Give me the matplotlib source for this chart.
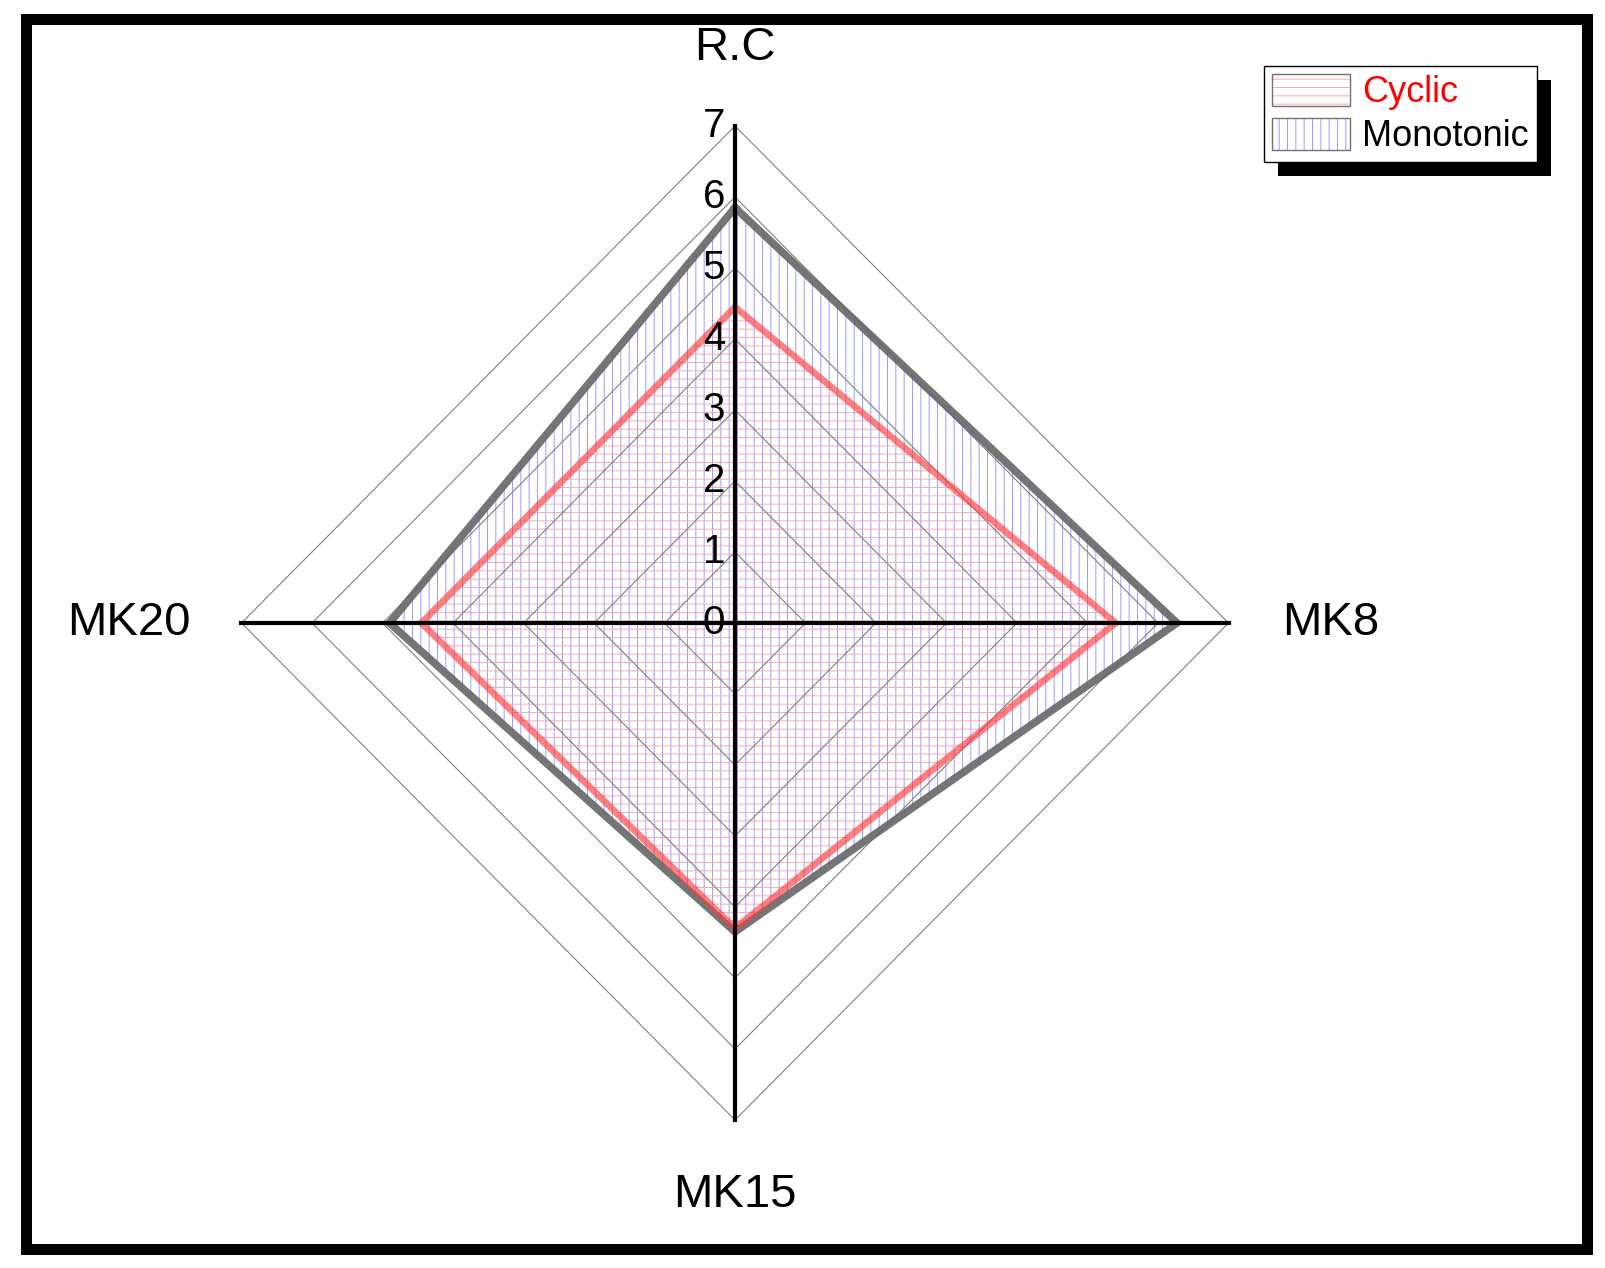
import numpy as np
import matplotlib
matplotlib.use("Agg")
import matplotlib.pyplot as plt
from matplotlib.patches import Patch, Rectangle

plt.rcParams['font.family'] = ['Liberation Sans', 'DejaVu Sans']
plt.rcParams['hatch.linewidth'] = 0.7

# axes clockwise from the top
categories = ['R.C', 'MK8', 'MK15', 'MK20']
angles_deg = [90, 0, -90, 180]
cyclic = [4.45, 5.4, 4.3, 4.45]
monotonic = [5.85, 6.27, 4.35, 4.9]
ticks = [0, 1, 2, 3, 4, 5, 6, 7]
rmax = 7
label_r = [8.1, 8.45, 8.05, 8.6]

W, H, DPI = 1606, 1268, 100
cx, cy = 735, 623          # centre of the web, pixels
sx, sy = 70.5, 71.0        # pixels per unit

RED_HATCH = '#ffa8a8'
BLUE_HATCH = '#9a9aff'

fig = plt.figure(figsize=(W / DPI, H / DPI), dpi=DPI)
ax = fig.add_axes([0, 0, 1, 1])
ax.set_xlim(-cx / sx, (W - cx) / sx)
ax.set_ylim((cy - H) / sy, cy / sy)
ax.axis('off')

th = np.deg2rad(angles_deg)
ux, uy = np.cos(th), np.sin(th)


def closed(vals):
    v = np.asarray(vals, dtype=float)
    x, y = v * ux, v * uy
    return np.append(x, x[0]), np.append(y, y[0])


# hatched fills
mx, my = closed(monotonic)
ax.fill(mx, my, facecolor='none', edgecolor=BLUE_HATCH, hatch='||', lw=0, zorder=1)
cx_, cy_ = closed(cyclic)
ax.fill(cx_, cy_, facecolor='none', edgecolor=RED_HATCH, hatch='--', lw=0, zorder=1)

# diamond grid
for t in ticks[1:]:
    gx, gy = closed([t] * len(categories))
    ax.plot(gx, gy, color='#808080', lw=0.8, zorder=2)

# series outlines
ax.plot(mx, my, color='#666666', lw=5.5, alpha=0.9, solid_joinstyle='miter', zorder=3)
ax.plot(cx_, cy_, color='#ff3c3c', lw=4.8, alpha=0.65, solid_joinstyle='miter', zorder=4)

# spokes
for a, b in zip(ux, uy):
    ax.plot([0, rmax * a], [0, rmax * b], color='black', lw=3, zorder=5)

# radial tick labels along the top spoke
for t in ticks:
    ax.text(-0.14, t, str(t), ha='right', va='center', fontsize=29, zorder=6)

# axis names
for name, a, b, r in zip(categories, ux, uy, label_r):
    ax.text(r * a, r * b, name, ha='center', va='center', fontsize=34)

# legend with hard black drop shadow
handles = [
    (Patch(facecolor='white', edgecolor=RED_HATCH, hatch='--', lw=0),
     Patch(fill=False, edgecolor='#707070', lw=1)),
    (Patch(facecolor='white', edgecolor=BLUE_HATCH, hatch='||', lw=0),
     Patch(fill=False, edgecolor='#707070', lw=1)),
]
leg = fig.legend(handles, ['Cyclic', 'Monotonic'], loc='upper right',
                 bbox_to_anchor=(1537 / W, 1 - 66 / H), borderaxespad=0,
                 fontsize=26, fancybox=False, framealpha=1, edgecolor='black',
                 handlelength=2.15, handleheight=1.0, handletextpad=0.35,
                 labelspacing=0.2, borderpad=0.22)
leg.get_frame().set_linewidth(1)
for txt, col in zip(leg.get_texts(), ['red', 'black']):
    txt.set_color(col)

fig.canvas.draw()
bb = leg.get_window_extent().transformed(fig.transFigure.inverted())
fig.add_artist(Rectangle((bb.x0 + 14 / W, bb.y0 - 14 / H), bb.width, bb.height,
                         transform=fig.transFigure, facecolor='black',
                         edgecolor='none', zorder=4))

# thick outer frame
fig.add_artist(Rectangle((26.5 / W, (H - 1248.5) / H), 1561 / W, 1230 / H,
                         transform=fig.transFigure, fill=False,
                         edgecolor='black', lw=11 * 72 / DPI))

fig.savefig('out.png', dpi=DPI)
